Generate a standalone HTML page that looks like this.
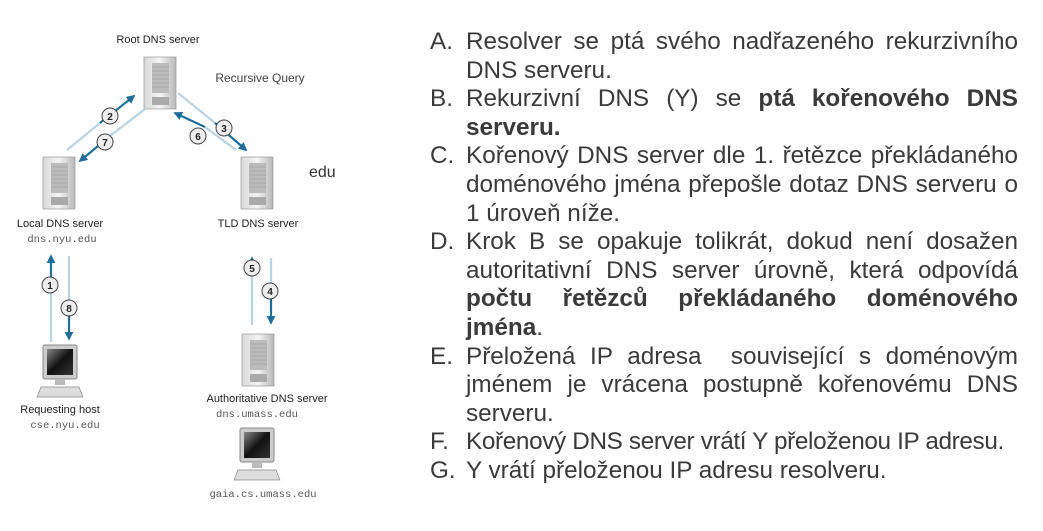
<!DOCTYPE html>
<html><head><meta charset="utf-8"><style>
body{margin:0;width:1043px;height:531px;background:#fff;position:relative;overflow:hidden;font-family:"Liberation Sans",sans-serif}
.t{position:absolute;left:430px;top:28px;width:588px;font-size:24.3px;line-height:28.6px;color:#3a3a3a}
.i{position:relative;padding-left:36px;text-align:justify}
.i span.l{position:absolute;left:0;top:0}
.lb{position:absolute;font-size:11px;color:#222;white-space:nowrap;transform:translateX(-50%)}
.mo{position:absolute;font-family:"Liberation Mono",monospace;font-size:10.5px;color:#555;white-space:nowrap;transform:translateX(-50%)}
</style></head><body>
<svg width="420" height="531" style="position:absolute;left:0;top:0">
<defs>
<linearGradient id="sv" x1="0" x2="1"><stop offset="0" stop-color="#d8d8d8"/><stop offset=".5" stop-color="#f4f4f4"/><stop offset="1" stop-color="#b8b8b8"/></linearGradient>
<linearGradient id="sc" x1="0" y1="0" x2="1" y2="1"><stop offset="0" stop-color="#888"/><stop offset=".5" stop-color="#111"/><stop offset="1" stop-color="#333"/></linearGradient>
<marker id="ah" viewBox="0 0 10 10" refX="8" refY="5" markerWidth="4" markerHeight="4" orient="auto"><path d="M0,0L10,5L0,10z" fill="#1f6f9a"/></marker>
<g id="srv"><rect x="0" y="0" width="32" height="52" fill="url(#sv)" stroke="#999" stroke-width=".7"/><rect x="8" y="6" width="17" height="30" fill="#bbb"/><g stroke="#999" stroke-width=".6"><line x1="8" y1="10" x2="25" y2="10"/><line x1="8" y1="14" x2="25" y2="14"/><line x1="8" y1="18" x2="25" y2="18"/><line x1="8" y1="22" x2="25" y2="22"/><line x1="8" y1="26" x2="25" y2="26"/><line x1="8" y1="30" x2="25" y2="30"/></g><rect x="8" y="40" width="17" height="8" fill="#aaa"/></g>
<g id="pc"><rect x="4" y="0" width="34" height="34" rx="2" fill="#ccc" stroke="#888"/><rect x="8" y="4" width="26" height="26" fill="url(#sc)"/><rect x="16" y="34" width="10" height="6" fill="#bbb"/><path d="M2,42L40,42L44,52L-2,52z" fill="#ddd" stroke="#888" stroke-width=".7"/></g>
<g id="c"><circle r="8" fill="#eee" stroke="#444" stroke-width="1"/></g>
</defs>
<use href="#srv" x="144" y="57"/>
<use href="#srv" x="43" y="157"/>
<use href="#srv" x="241" y="157"/>
<use href="#srv" x="242" y="334"/>
<use href="#pc" x="39" y="345"/>
<use href="#pc" x="236" y="428"/>
<g stroke-width="2.2" fill="none">
<line x1="67" y1="150" x2="100" y2="123" stroke="#b8d4e3"/><line x1="100" y1="123" x2="134" y2="96" stroke="#1f6f9a" marker-end="url(#ah)"/>
<line x1="145" y1="109" x2="110" y2="136" stroke="#b8d4e3"/><line x1="110" y1="136" x2="80" y2="161" stroke="#1f6f9a" marker-end="url(#ah)"/>
<line x1="236" y1="150" x2="205" y2="127" stroke="#b8d4e3"/><line x1="205" y1="127" x2="175" y2="113" stroke="#1f6f9a" marker-end="url(#ah)"/>
<line x1="178" y1="93" x2="215" y2="123" stroke="#b8d4e3"/><line x1="215" y1="123" x2="246" y2="150" stroke="#1f6f9a" marker-end="url(#ah)"/>
<line x1="51" y1="342" x2="51" y2="290" stroke="#b8d4e3"/><line x1="51" y1="290" x2="51" y2="256" stroke="#1f6f9a" marker-end="url(#ah)"/>
<line x1="69" y1="256" x2="69" y2="300" stroke="#b8d4e3"/><line x1="69" y1="300" x2="69" y2="339" stroke="#1f6f9a" marker-end="url(#ah)"/>
<line x1="252" y1="325" x2="252" y2="275" stroke="#b8d4e3"/><line x1="252" y1="275" x2="252" y2="258" stroke="#1f6f9a" marker-end="url(#ah)"/>
<line x1="271" y1="258" x2="271" y2="285" stroke="#b8d4e3"/><line x1="271" y1="285" x2="271" y2="323" stroke="#1f6f9a" marker-end="url(#ah)"/>
</g>
<g font-family="Liberation Sans" font-size="10" font-weight="bold" fill="#222" text-anchor="middle">
<use href="#c" x="110" y="116"/><text x="110" y="120">2</text>
<use href="#c" x="105" y="142"/><text x="105" y="146">7</text>
<use href="#c" x="198" y="136"/><text x="198" y="140">6</text>
<use href="#c" x="224" y="128"/><text x="224" y="132">3</text>
<use href="#c" x="50" y="285"/><text x="50" y="289">1</text>
<use href="#c" x="69" y="308"/><text x="69" y="312">8</text>
<use href="#c" x="252" y="268"/><text x="252" y="272">5</text>
<use href="#c" x="270" y="291"/><text x="270" y="295">4</text>
</g>
</svg>
<div class="lb" style="left:158px;top:34px">Root DNS server</div>
<div class="lb" style="left:260px;top:71px;color:#444;font-size:12px">Recursive Query</div>
<div style="position:absolute;left:309px;top:164px;font-size:16px;color:#333">edu</div>
<div class="lb" style="left:60px;top:218px">Local DNS server</div>
<div class="mo" style="left:62px;top:234px">dns.nyu.edu</div>
<div class="lb" style="left:258px;top:218px">TLD DNS server</div>
<div class="lb" style="left:60px;top:404px">Requesting host</div>
<div class="mo" style="left:65px;top:420px">cse.nyu.edu</div>
<div class="lb" style="left:267px;top:393px">Authoritative DNS server</div>
<div class="mo" style="left:257px;top:409px">dns.umass.edu</div>
<div class="mo" style="left:263px;top:489px">gaia.cs.umass.edu</div>
<div class="t">
<div class="i"><span class="l">A.</span>Resolver se ptá svého nadřazeného rekurzivního DNS serveru.</div>
<div class="i"><span class="l">B.</span>Rekurzivní DNS (Y) se <b>ptá kořenového DNS serveru.</b></div>
<div class="i"><span class="l">C.</span>Kořenový DNS server dle 1. řetězce překládaného doménového jména přepošle dotaz DNS serveru o 1 úroveň níže.</div>
<div class="i"><span class="l">D.</span>Krok B se opakuje tolikrát, dokud není dosažen autoritativní DNS server úrovně, která odpovídá <b>počtu řetězců překládaného doménového jména</b>.</div>
<div class="i"><span class="l">E.</span>Přeložená IP adresa&nbsp; související s doménovým jménem je vrácena postupně kořenovému DNS serveru.</div>
<div class="i" style="white-space:nowrap;letter-spacing:-0.35px"><span class="l" style="letter-spacing:0">F.</span>Kořenový DNS server vrátí Y přeloženou IP adresu.</div>
<div class="i"><span class="l">G.</span>Y vrátí přeloženou IP adresu resolveru.</div>
</div>
</body></html>
